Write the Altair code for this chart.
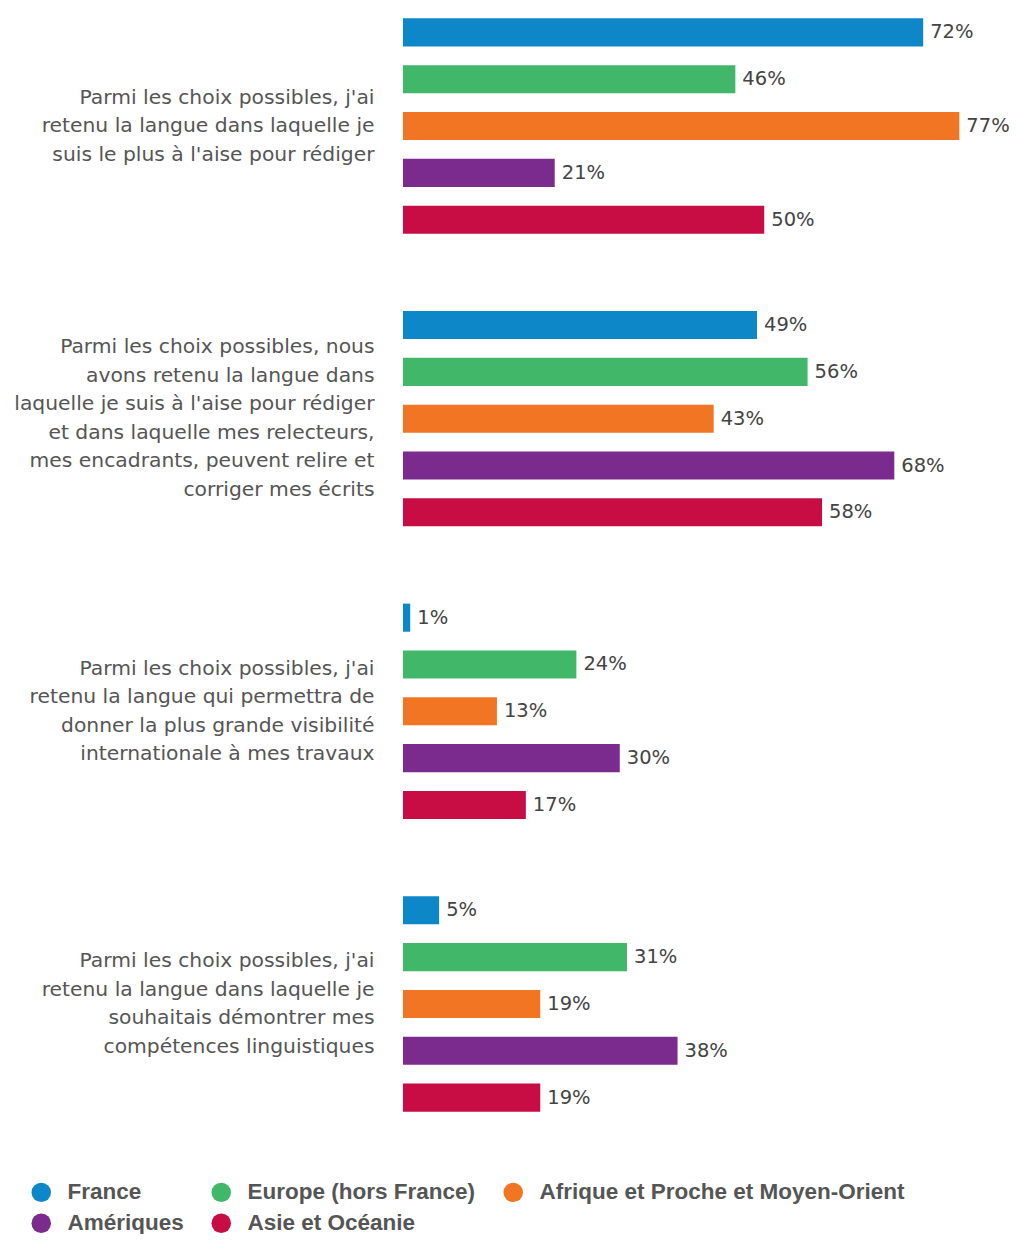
import altair as alt
import pandas as pd

questions = [
    "Parmi les choix possibles, j'ai|retenu la langue dans laquelle je|suis le plus à l'aise pour rédiger",
    "Parmi les choix possibles, nous|avons retenu la langue dans|laquelle je suis à l'aise pour rédiger|et dans laquelle mes relecteurs,|mes encadrants, peuvent relire et|corriger mes écrits",
    "Parmi les choix possibles, j'ai|retenu la langue qui permettra de|donner la plus grande visibilité|internationale à mes travaux",
    "Parmi les choix possibles, j'ai|retenu la langue dans laquelle je|souhaitais démontrer mes|compétences linguistiques",
]
regions = ["France", "Europe (hors France)", "Afrique et Proche et Moyen-Orient", "Amériques", "Asie et Océanie"]
colors = ["#0E87C9", "#41B76A", "#F27524", "#7B2A8E", "#C80D45"]

france = [72, 49, 1, 5]
europe = [46, 56, 24, 31]
afrique = [77, 43, 13, 19]
ameriques = [21, 68, 30, 38]
asie = [50, 58, 17, 19]

series = [france, europe, afrique, ameriques, asie]
rows = []
for r, vals in zip(regions, series):
    for q, v in zip(questions, vals):
        rows.append({"question": q, "region": r, "value": v, "label": f"{v}%"})
df = pd.DataFrame(rows)

LINE_H = 28.5
label_offset = {
    "condition": [
        {"test": "length(split(datum.value, '|')) == 6", "value": -2.5 * LINE_H},
        {"test": "length(split(datum.value, '|')) == 4", "value": -1.5 * LINE_H},
    ],
    "value": -1.0 * LINE_H,
}

y = alt.Y(
    "question:N",
    sort=questions,
    scale=alt.Scale(paddingInner=0.2, paddingOuter=0),
    axis=alt.Axis(
        title=None,
        labelExpr="split(datum.label, '|')",
        labelFont="DejaVu Sans",
        labelFontSize=20.3,
        labelColor="#555555",
        labelLineHeight=LINE_H,
        labelPadding=29,
        labelLimit=0,
        labelAlign="right",
        labelBaseline="middle",
        labelOffset=label_offset,
        ticks=False,
        domain=False,
        grid=False,
    ),
)
yoff = alt.YOffset("region:N", sort=regions, scale=alt.Scale(paddingInner=0.4, paddingOuter=0.2))
x = alt.X("value:Q", scale=alt.Scale(domain=[0, 80]), axis=None)

base = alt.Chart(df).encode(y=y, yOffset=yoff, x=x)

bars = base.mark_bar(cornerRadius=0).encode(
    color=alt.Color(
        "region:N",
        sort=regions,
        scale=alt.Scale(domain=regions, range=colors),
        legend=alt.Legend(
            title=None,
            orient="none",
            legendX=-373,
            legendY=1172,
            direction="horizontal",
            columns=3,
            columnPadding=26,
            rowPadding=8,
            symbolType="circle",
            symbolSize=380,
            symbolStrokeWidth=0,
            labelFont="Liberation Sans",
            labelFontWeight="bold",
            labelFontSize=22.5,
            labelColor="#555555",
            labelOffset=15,
            labelLimit=0,
        ),
    )
)

texts = base.mark_text(
    align="left", baseline="middle", dx=7, font="DejaVu Sans", fontSize=19.5, color="#444444"
).encode(text="label:N")

chart = (
    alt.layer(bars, texts)
    .properties(
        width=578,
        height=1112,
        padding={"left": 395, "top": 1, "right": 31, "bottom": 113},
        autosize=alt.AutoSizeParams(type="none"),
    )
    .configure_view(stroke=None)
)

chart.save("out.html", embed_options={"renderer": "svg", "actions": False})
